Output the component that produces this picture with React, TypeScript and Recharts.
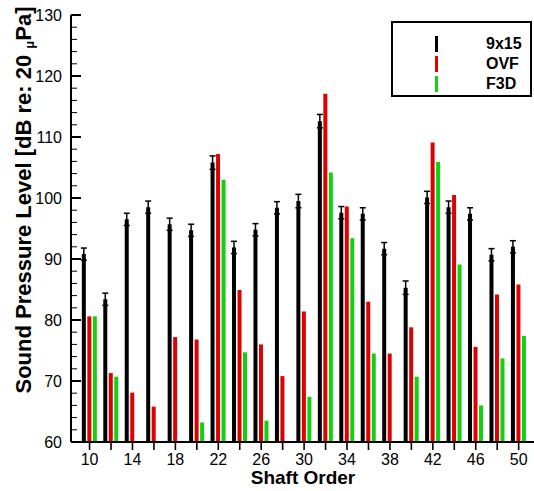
import React from 'react';
import { BarChart, Bar, XAxis, YAxis, ErrorBar, Legend } from 'recharts';

const orders = [10, 12, 14, 16, 18, 20, 22, 24, 26, 28, 30, 32, 34, 36, 38, 40, 42, 44, 46, 48, 50];
const tunnel9x15 = [90.8, 83.4, 96.5, 98.5, 95.7, 94.7, 105.8, 91.9, 94.8, 98.4, 99.5, 112.6, 97.6, 97.4, 91.7, 85.3, 100.1, 98.5, 97.4, 90.7, 92.0];
const tunnelErr = [1.0, 1.0, 1.0, 1.0, 1.0, 1.0, 1.1, 1.0, 1.0, 1.0, 1.1, 1.1, 1.0, 1.0, 1.0, 1.1, 1.0, 1.0, 1.0, 1.0, 1.0];
const ovf = [80.6, 71.3, 68.1, 65.8, 77.2, 76.8, 107.2, 84.9, 76.0, 70.8, 81.4, 117.1, 98.6, 83.0, 74.5, 78.8, 109.1, 100.5, 75.6, 84.2, 85.8];
const f3d: (number | null)[] = [80.6, 70.7, null, null, null, 63.2, 103.0, 74.7, 63.5, null, 67.4, 104.2, 93.4, 74.5, null, 70.7, 105.9, 89.1, 66.0, 73.7, 77.4];

const yTicks = [60, 62, 64, 66, 68, 70, 72, 74, 76, 78, 80, 82, 84, 86, 88, 90, 92, 94, 96, 98, 100, 102, 104, 106, 108, 110, 112, 114, 116, 118, 120, 122, 124, 126, 128, 130];

const seriesNames = ['9x15', 'OVF', 'F3D'];
const colors = ['#000000', '#e00000', '#10d010'];

const data = orders.map((o, i) => ({
  order: o,
  t9x15: tunnel9x15[i],
  err: tunnelErr[i],
  ovf: ovf[i],
  f3d: f3d[i],
}));

const FONT = '"Liberation Sans", Arial, Helvetica, sans-serif';

const XTick = (props: any) => {
  const { x, y, payload } = props;
  const v = payload.value;
  const major = v % 4 === 2;
  return (
    <g>
      <line x1={x} y1={y} x2={x} y2={y + 8} stroke="#000" strokeWidth={1.6} />
      {major && (
        <text x={x} y={y + 23} textAnchor="middle" fontSize={16} fontFamily={FONT} fill="#000">
          {v}
        </text>
      )}
    </g>
  );
};

const YTick = (props: any) => {
  const { x, y, payload } = props;
  const v = payload.value;
  const major = v % 10 === 0;
  return (
    <g>
      <line x1={x} y1={y} x2={x + (major ? 10 : 6)} y2={y} stroke="#000" strokeWidth={major ? 2 : 1} />
      {major && (
        <text x={x - 9} y={y + 5.5} textAnchor="end" fontSize={16} fontFamily={FONT} fill="#000">
          {v}
        </text>
      )}
    </g>
  );
};

const YTitle = () => (
  <text
    x={31}
    y={200}
    transform="rotate(-90 31 200)"
    textAnchor="middle"
    fontSize={22}
    fontWeight="bold"
    fontFamily={FONT}
    fill="#000"
  >
    Sound Pressure Level [dB re: 20{' '}
    <tspan fontSize={13} dy={3}>μ</tspan>
    <tspan dy={-3}>Pa]</tspan>
  </text>
);

const XTitle = () => (
  <text x={303} y={484} textAnchor="middle" fontSize={19} fontWeight="bold" fontFamily={FONT} fill="#000">
    Shaft Order
  </text>
);

const LegendBox = () => (
  <div
    style={{
      width: 137,
      height: 72,
      border: '2px solid #000',
      background: '#fff',
      position: 'relative',
      fontFamily: FONT,
    }}
  >
    {seriesNames.map((n, i) => (
      <div key={n} style={{ position: 'absolute', left: 0, top: 13 + i * 20, width: '100%', height: 17 }}>
        <div style={{ position: 'absolute', left: 42, top: 0, width: 3, height: 16, background: colors[i] }} />
        <div
          style={{
            position: 'absolute',
            left: 93,
            top: -1,
            fontSize: 16,
            fontWeight: 'bold',
            lineHeight: '18px',
            color: '#000',
          }}
        >
          {n}
        </div>
      </div>
    ))}
  </div>
);

export default function App() {
  return (
    <div style={{ position: 'absolute', left: 0, top: 0, background: '#fff' }}>
      <BarChart
        width={534}
        height={491}
        data={data}
        margin={{ top: 15, right: 0, left: 0, bottom: 0 }}
        barGap={1.5}
        barSize={4}
      >
        <XAxis
          dataKey="order"
          type="number"
          domain={[8.27, 51.43]}
          ticks={orders}
          interval={0}
          allowDataOverflow
          height={49}
          axisLine={{ stroke: '#000', strokeWidth: 2 }}
          tickLine={false}
          tickSize={0}
          tickMargin={0}
          tick={<XTick />}
          label={XTitle}
        />
        <XAxis
          xAxisId="top"
          orientation="top"
          dataKey="order"
          type="number"
          domain={[8.27, 51.43]}
          allowDataOverflow
          height={0}
          axisLine={{ stroke: '#000', strokeWidth: 2 }}
          tickLine={false}
          tick={false}
        />
        <YAxis
          type="number"
          domain={[60, 130]}
          ticks={yTicks}
          interval={0}
          allowDataOverflow
          width={71}
          axisLine={{ stroke: '#000', strokeWidth: 2 }}
          tickLine={false}
          tickSize={0}
          tickMargin={0}
          tick={<YTick />}
          label={YTitle}
        />
        <Legend
          layout="vertical"
          align="center"
          verticalAlign="middle"
          content={LegendBox}
          wrapperStyle={{ position: 'absolute', left: 391, top: 21, width: 141, height: 76 }}
        />
        <Bar dataKey="t9x15" name={seriesNames[0]} fill={colors[0]} isAnimationActive={false}>
          <ErrorBar dataKey="err" width={3} stroke="#000" strokeWidth={1.5} direction="y" />
        </Bar>
        <Bar dataKey="ovf" name={seriesNames[1]} fill={colors[1]} isAnimationActive={false} />
        <Bar dataKey="f3d" name={seriesNames[2]} fill={colors[2]} isAnimationActive={false} />
      </BarChart>
    </div>
  );
}
